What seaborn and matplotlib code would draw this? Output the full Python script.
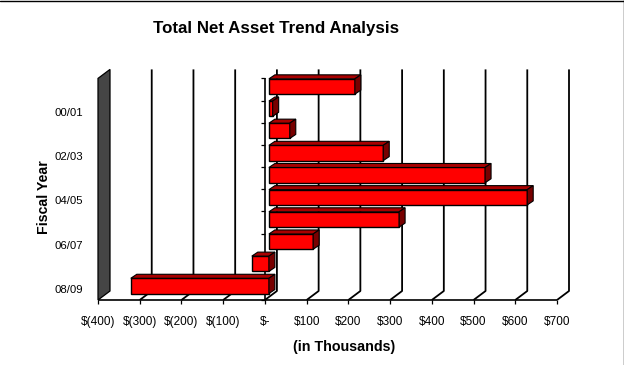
import matplotlib
matplotlib.use('Agg')
import matplotlib.pyplot as plt
import seaborn as sns
import pandas as pd
from matplotlib.patches import Polygon
from matplotlib.lines import Line2D
from matplotlib.transforms import ScaledTranslation, IdentityTransform

# ---- data ----
years = ['99/00', '00/01', '01/02', '02/03', '03/04',
         '04/05', '05/06', '06/07', '07/08', '08/09']
net_assets = [206, 9, 50, 274, 518, 619, 312, 106, -41, -331]  # in thousands
shown_years = ['00/01', '02/03', '04/05', '06/07', '08/09']
tick_values = [-400, -300, -200, -100, 0, 100, 200, 300, 400, 500, 600, 700]
tick_labels = ['$(400)', '$(300)', '$(200)', '$(100)', '$-', '$100',
               '$200', '$300', '$400', '$500', '$600', '$700']

sns.set_theme(style='white')
plt.rcParams['font.family'] = ['Liberation Sans', 'DejaVu Sans']

W, H = 624, 365
fig = plt.figure(figsize=(W / 100, H / 100), dpi=100)
fig.patch.set_facecolor('white')
ax = fig.add_axes([102 / W, 68 / H, 459 / W, 221.6 / H])

df = pd.DataFrame({'year': years, 'value': net_assets})
sns.barplot(data=df, x='value', y='year', orient='h', color='#FF0000',
            saturation=1, width=0.69, edgecolor='black', linewidth=1.0,
            ax=ax, zorder=3)
ax.set_xlim(tick_values[0], tick_values[-1])
ax.set_ylim(len(years) - 0.5, -0.5)
ax.set_autoscale_on(False)
for s in ax.spines.values():
    s.set_visible(False)
ax.set_facecolor('none')
ax.grid(False)
ax.set_xlabel('')
ax.set_ylabel('')

# ticks
ax.set_xticks(tick_values, tick_labels)
ax.set_yticks([years.index(y) for y in shown_years], shown_years)
ax.tick_params(axis='x', length=0, pad=13.7, labelsize=8.5, colors='black')
ax.tick_params(axis='y', length=0, pad=13.7, labelsize=8.2, colors='black')
for lab in ax.get_xticklabels():
    lab.set_transform(lab.get_transform() + ScaledTranslation(-4 / 100, 0, fig.dpi_scale_trans))
for lab in ax.get_yticklabels():
    lab.set_transform(lab.get_transform() + ScaledTranslation(0, -3 / 100, fig.dpi_scale_trans))

# ---- pseudo-3D frame ----
FRONT = (-4, 3)   # image px offset of front floor plane from bar plane
BACK = (8, -6)    # image px offset of back wall from bar plane
DEPTH = (6, -4)   # bar depth
ident = IdentityTransform()


def P(x, y, off):
    px, py = ax.transData.transform((x, y))
    return (px + off[0], py - off[1])


ytop, ybot = -0.5, len(years) - 0.5

def line(pts, lw=1.1, z=1):
    xs = [p[0] for p in pts]
    ys = [p[1] for p in pts]
    ax.add_line(Line2D(xs, ys, transform=ident, color='black', lw=lw,
                       clip_on=False, zorder=z, solid_capstyle='butt'))

# gridlines on back wall + diagonals to the floor front
for v in tick_values[1:]:
    T = P(v, ytop, BACK)
    B = P(v, ybot, BACK)
    F = P(v, ybot, FRONT)
    line([T, B, F], lw=1.3, z=1)
for v in tick_values:
    F = P(v, ybot, FRONT)
    line([F, (F[0], F[1] - 4)], lw=0.9, z=1)

# left side wall
wall = Polygon([P(tick_values[0], ybot, FRONT), P(tick_values[0], ytop, FRONT),
                P(tick_values[0], ytop, BACK), P(tick_values[0], ybot, BACK)],
               closed=True, transform=ident, facecolor='#454545',
               edgecolor='black', lw=0.9, clip_on=False, zorder=2)
ax.add_patch(wall)

# floor front edge
line([P(tick_values[0], ybot, FRONT), P(tick_values[-1], ybot, FRONT)], lw=1.2, z=2)

# value axis at zero with category ticks
line([P(0, ytop, FRONT), P(0, ybot, FRONT)], lw=1.2, z=2)
for k in range(len(years) + 1):
    p = P(0, k - 0.5, FRONT)
    line([p, (p[0] - 4, p[1])], lw=0.9, z=2)

# bar depth faces
for bar in ax.patches[:len(years)]:
    bb = bar.get_window_extent()
    x0, x1, y0, y1 = bb.x0, bb.x1, bb.y0, bb.y1
    dx, dy = DEPTH[0], -DEPTH[1]
    top = Polygon([(x0, y1), (x1, y1), (x1 + dx, y1 + dy), (x0 + dx, y1 + dy)],
                  closed=True, transform=ident, facecolor='#A80000',
                  edgecolor='black', lw=0.8, clip_on=False, zorder=3.5)
    side = Polygon([(x1, y0), (x1, y1), (x1 + dx, y1 + dy), (x1 + dx, y0 + dy)],
                   closed=True, transform=ident, facecolor='#780000',
                   edgecolor='black', lw=0.8, clip_on=False, zorder=3.5)
    ax.add_patch(top)
    ax.add_patch(side)

# ---- texts ----
fig.text(276 / W, 1 - 32.5 / H, 'Total Net Asset Trend Analysis', ha='center',
         va='baseline', fontsize=12.2, fontweight='bold', color='black')
fig.text(43.5 / W, 1 - 197.5 / H, 'Fiscal Year', ha='center', va='center',
         rotation=90, fontsize=10.2, fontweight='bold', color='black')
fig.text(344 / W, 1 - 351 / H, '(in Thousands)', ha='center', va='baseline',
         fontsize=10.3, fontweight='bold', color='black')

# outer border (top and right)
fig.add_artist(Line2D([0, 1], [1 - 0.5 / H] * 2, transform=fig.transFigure,
                      color='black', lw=1.0))
fig.add_artist(Line2D([1 - 0.5 / W] * 2, [0, 1], transform=fig.transFigure,
                      color='black', lw=1.0))

fig.savefig('out.png', dpi=100)
